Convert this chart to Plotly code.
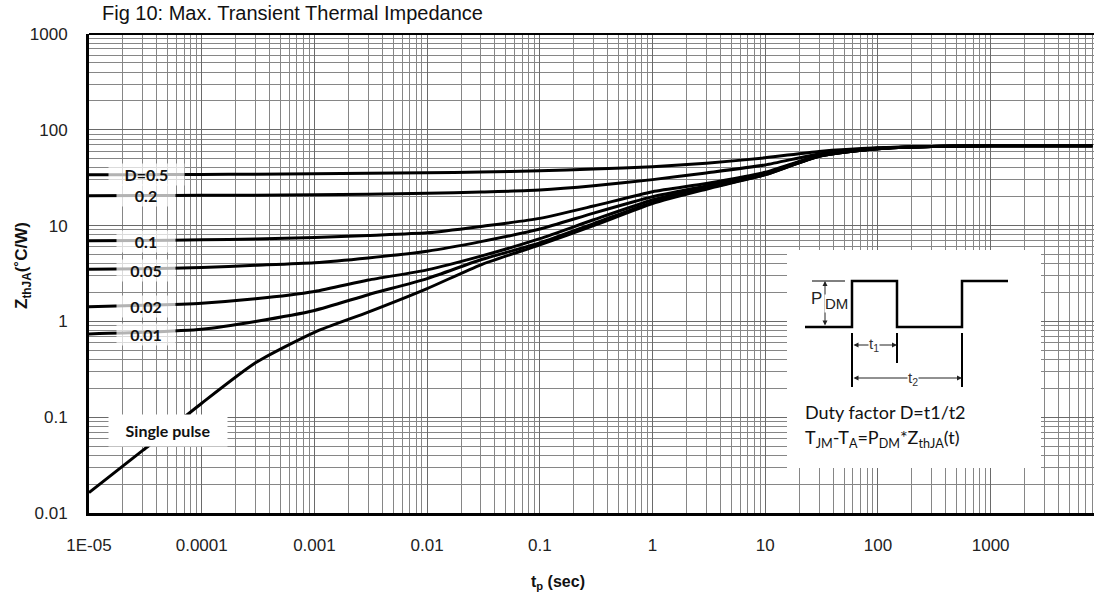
import plotly.graph_objects as go

# pulse width (s) and Zth values
tp = [1e-5, 3e-5, 1e-4, 3e-4, 1e-3, 3e-3, 1e-2, 3e-2, 0.1, 0.3, 1, 3, 10, 30, 100, 300, 1000, 8000]

z_d05 = [34, 34, 34.2, 34.4, 34.7, 35.1, 35.6, 36.3, 37.4, 39, 41.2, 44.8, 51, 59.5, 65, 67, 68, 68.2]
z_d02 = [20.5, 20.6, 20.7, 20.8, 21, 21.3, 21.7, 22.4, 23.5, 26, 30.2, 35.5, 43, 56, 64.5, 67, 68, 68.2]
z_d01 = [6.95, 7.0, 7.1, 7.25, 7.5, 7.9, 8.4, 9.8, 11.9, 16, 22.6, 27.5, 36, 54, 64, 67, 68, 68.2]
z_d005 = [3.5, 3.55, 3.65, 3.85, 4.1, 4.6, 5.4, 6.8, 9.2, 13.5, 20, 26, 35, 53.5, 63.5, 67, 68, 68.2]
z_d002 = [1.42, 1.47, 1.55, 1.72, 2.05, 2.7, 3.45, 4.8, 7.3, 11.5, 18.5, 25, 34.5, 53, 63.5, 67, 68, 68.2]
z_d001 = [0.74, 0.77, 0.83, 1.0, 1.3, 1.9, 2.8, 4.4, 6.6, 10.5, 17.5, 24.5, 34, 53, 63.5, 67, 68, 68.2]
z_single = [0.0163, 0.045, 0.14, 0.37, 0.77, 1.25, 2.2, 3.9, 6.3, 10, 17, 24, 34, 53, 63.5, 67, 68, 68.2]

series = [z_d05, z_d02, z_d01, z_d005, z_d002, z_d001, z_single]
curve_labels = ["D=0.5", "0.2", "0.1", "0.05", "0.02", "0.01"]

x_tickvals = [1e-5, 1e-4, 1e-3, 1e-2, 0.1, 1, 10, 100, 1000]
x_ticktext = ["1E-05", "0.0001", "0.001", "0.01", "0.1", "1", "10", "100", "1000"]
y_tickvals = [0.01, 0.1, 1, 10, 100, 1000]
y_ticktext = ["0.01", "0.1", "1", "10", "100", "1000"]

W, H = 1094, 599
L, R, T, B = 89, 1094, 34, 513


# pixel -> paper helpers for the decorations
def px(x):
    return (x - L) / (R - L)


def py(y):
    return (B - y) / (B - T)


def note(text, x, y, size, family="Liberation Sans, Arial", color="#111", **kw):
    d = dict(text=text, xref="paper", yref="paper", x=px(x), y=py(y), showarrow=False,
             xanchor="center", yanchor="middle", font=dict(family=family, size=size, color=color))
    d.update(kw)
    return d


fig = go.Figure()
for z in series:
    fig.add_trace(go.Scatter(x=tp, y=z, mode="lines", line=dict(color="black", width=3, shape="spline", smoothing=0.6),
                             showlegend=False, hoverinfo="skip"))

tick_font = dict(family="Liberation Sans, Arial", size=17, color="#222")
fig.update_xaxes(type="log", range=[-5, 3.917], tickvals=x_tickvals, ticktext=x_ticktext, tickfont=tick_font,
                 showgrid=True, gridcolor="#6a6a6a", gridwidth=1, zeroline=False, automargin=False,
                 minor=dict(dtick="D1", showgrid=True, gridcolor="#868686", gridwidth=1),
                 showline=True, linecolor="black", linewidth=3, ticks="", ticklabelstandoff=15)
fig.update_yaxes(type="log", range=[-2, 3], tickvals=y_tickvals, ticktext=y_ticktext, tickfont=tick_font,
                 showgrid=True, gridcolor="#6a6a6a", gridwidth=1, zeroline=False, automargin=False,
                 minor=dict(dtick="D1", showgrid=True, gridcolor="#868686", gridwidth=1),
                 showline=True, linecolor="black", linewidth=3, ticks="", ticklabelstandoff=15)

shapes = []
# top border
shapes.append(dict(type="line", xref="paper", yref="paper", x0=0, x1=1, y0=1, y1=1,
                   line=dict(color="black", width=2)))
# inset box
shapes.append(dict(type="rect", xref="paper", yref="paper", x0=px(787), x1=px(1041), y0=py(468), y1=py(250),
                   fillcolor="white", line=dict(width=0), layer="above"))
wave = [(805, 327), (852, 327), (852, 281), (897, 281), (897, 327), (962, 327), (962, 281), (1008, 281)]
path = "M " + " L ".join(f"{px(a):.5f},{py(b):.5f}" for a, b in wave)
shapes.append(dict(type="path", xref="paper", yref="paper", path=path, line=dict(color="black", width=2.5),
                   layer="above"))
for x0, y0, x1, y1, w in [(812, 281, 845, 281, 1), (852, 333, 852, 387, 2), (897, 333, 897, 363, 2),
                          (962, 333, 962, 387, 2)]:
    shapes.append(dict(type="line", xref="paper", yref="paper", x0=px(x0), y0=py(y0), x1=px(x1), y1=py(y1),
                       line=dict(color="black", width=w), layer="above"))

annotations = []
annotations.append(note("Fig 10: Max. Transient Thermal Impedance", 100, 13, 20, xanchor="left"))
annotations.append(note("<b>Z<sub>thJA</sub>(˚C/W)</b>", 23, 266, 17, textangle=-90))
annotations.append(note("<b>t<sub>p</sub> (sec)</b>", 558, 582, 16))

label_y = [174, 196, 241, 270, 306, 334]
for lab, ly in zip(curve_labels, label_y):
    annotations.append(note(f"<b>{lab}</b>", 146, ly, 16, family="Lato, Carlito, sans-serif",
                            width=73 if lab.startswith("D") else 56, borderpad=1,
                            bgcolor="rgba(255,255,255,0.7)"))
annotations.append(note("<b>Single pulse</b>", 168, 430, 16, family="Lato, Carlito, sans-serif",
                        width=118, height=31, borderpad=0, bgcolor="white"))

# inset texts and arrows
arrow_kw = dict(xref="paper", yref="paper", axref="pixel", ayref="pixel", text="", showarrow=True,
                arrowhead=2, arrowside="end+start", arrowsize=1, arrowwidth=1, arrowcolor="#222",
                standoff=0, startstandoff=0)
annotations.append(dict(x=px(825), y=py(281), ax=0, ay=46, **arrow_kw))
annotations.append(dict(x=px(897), y=py(345), ax=-45, ay=0, **arrow_kw))
annotations.append(dict(x=px(962), y=py(378), ax=-110, ay=0, **arrow_kw))
annotations.append(note("P", 816, 298, 17, color="#222", bgcolor="white", borderpad=0))
annotations.append(note("DM", 836, 304, 15, color="#222", bgcolor="white", borderpad=0))
annotations.append(note("t<sub>1</sub>", 874, 345, 15, color="#333", bgcolor="white", borderpad=0))
annotations.append(note("t<sub>2</sub>", 913, 378, 15, color="#333", bgcolor="white", borderpad=0))
annotations.append(note("Duty factor D=t1/t2", 803, 412, 18, family="Lato, Carlito, sans-serif", xanchor="left"))
annotations.append(note("T<sub>JM</sub>-T<sub>A</sub>=P<sub>DM</sub>*Z<sub>thJA</sub>(t)", 803, 438, 18,
                        family="Lato, Carlito, sans-serif", xanchor="left"))

fig.update_layout(width=W, height=H, margin=dict(l=L, r=W - R, t=T, b=H - B, autoexpand=False),
                  plot_bgcolor="white", paper_bgcolor="white", shapes=shapes, annotations=annotations,
                  showlegend=False)

fig.write_html("out.html", config={"displayModeBar": False},
               post_script="document.body.style.margin='0';document.body.style.overflow='hidden';")
